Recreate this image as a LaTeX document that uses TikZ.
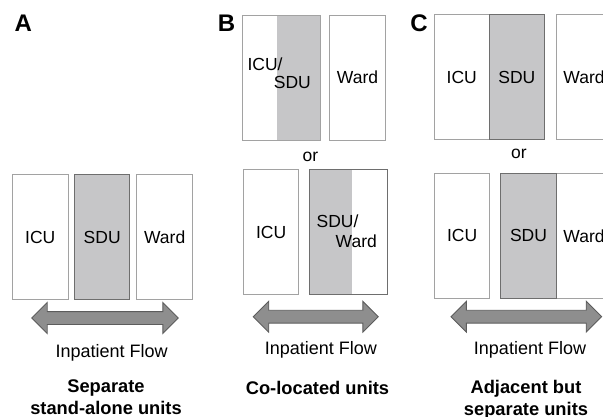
\documentclass[tikz,border=0pt]{standalone}
\usepackage{fontspec}
\setmainfont{Liberation Sans}
\usetikzlibrary{shapes.arrows}
\definecolor{unitline}{HTML}{A2A2A2}
\definecolor{sduline}{HTML}{6E6E6E}
\definecolor{sdufill}{HTML}{C6C6C8}
\definecolor{flowfill}{HTML}{8E8E8E}
\definecolor{flowline}{HTML}{5C5C5C}
\newcommand{\unitfont}{\fontsize{17.5}{18.5}\selectfont}
\newcommand{\flowfont}{\fontsize{18}{20}\selectfont}
\newcommand{\capfont}{\fontsize{18.3}{22}\selectfont\bfseries}
\newcommand{\panelfont}{\fontsize{24}{24}\selectfont\bfseries}

\begin{document}
\begin{tikzpicture}[x=1pt,y=-1pt,
  unit/.style={draw=unitline,fill=white,line width=1pt,minimum width=55.5pt,minimum height=125pt,inner sep=0pt,font=\unitfont},
  sdu/.style={unit,draw=sduline,fill=sdufill},
  wide/.style={unit,minimum width=78pt},
  rightgray/.style={path picture={\fill[sdufill] ([xshift=-#1]path picture bounding box.north east) rectangle (path picture bounding box.south east);}},
  leftgray/.style={path picture={\fill[sdufill] (path picture bounding box.north west) rectangle ([xshift=#1]path picture bounding box.south west);}},
  txt/.style={inner sep=0pt,font=\unitfont},
  flowtxt/.style={inner sep=0pt,font=\flowfont,anchor=base},
  caption/.style={inner sep=0pt,font=\capfont,align=center},
  panel/.style={inner sep=0pt,font=\panelfont,anchor=base},
  flow/.style={shape=double arrow,draw=flowline,fill=flowfill,line width=0.9pt,inner xsep=0pt,inner ysep=6pt,double arrow head extend=9pt,minimum height=#1}]
\useasboundingbox (0,0) rectangle (603,416);
\clip (0,0) rectangle (603,416);
% A: separate units
\node[panel] (labA) at (23.3,31.7) {A};
\node[unit] (icuA) at (40.3,237.2) {ICU};
\node[sdu] (sduA) at (102.2,237.2) {SDU};
\node[unit] (wardA) at (164.7,237.2) {Ward};
\node[flow=146.5pt] (flowA) at (105,318) {};
\node[flowtxt] (inpA) at (111.7,357) {Inpatient Flow};
\node[caption] (capA) at (106,397.6) {Separate\\stand-alone units};
% B: co-located
\node[panel] (labB) at (226.5,31.7) {B};
\node[wide,rightgray=43pt] (icusduB) at (281.2,77.5) {};
\node[txt,align=left,font=\fontsize{17.5}{18}\selectfont] (lblB1) at (279.2,73.4) {ICU/\\\hspace*{1.5em}SDU};
\node[unit] (wardB) at (357.5,77.5) {Ward};
\node[txt] (orB) at (310.5,157) {or};
\node[unit] (icuB) at (271.2,232.2) {ICU};
\node[wide,draw=sduline,leftgray=42.5pt] (sduwardB) at (348.3,232.2) {};
\node[txt,align=left,font=\fontsize{17.5}{19.4}\selectfont] (lblB2) at (346.7,231.4) {SDU/\\\hspace*{1.09em}Ward};
\node[flow=125pt] (flowB) at (315.8,316.7) {};
\node[flowtxt] (inpB) at (320.8,354) {Inpatient Flow};
\node[caption,anchor=base] (capB) at (317.5,394) {Co-located units};
% C: adjacent
\node[panel] (labC) at (419,31.7) {C};
\node[unit] (icuC1) at (461.8,77.2) {ICU};
\node[sdu] (sduC1) at (516.8,77.2) {SDU};
\node[unit] (wardC1) at (584,77.2) {Ward};
\node[txt] (orC) at (519,154.2) {or};
\node[unit] (icuC2) at (462.2,235.8) {ICU};
\node[unit] (wardC2) at (584,235.8) {Ward};
\node[sdu] (sduC2) at (528.5,235.8) {SDU};
\node[flow=150.7pt] (flowC) at (526.3,316.7) {};
\node[flowtxt] (inpC) at (530,354) {Inpatient Flow};
\node[caption] (capC) at (526,399.5) {Adjacent but\\separate units};
\end{tikzpicture}
\end{document}
